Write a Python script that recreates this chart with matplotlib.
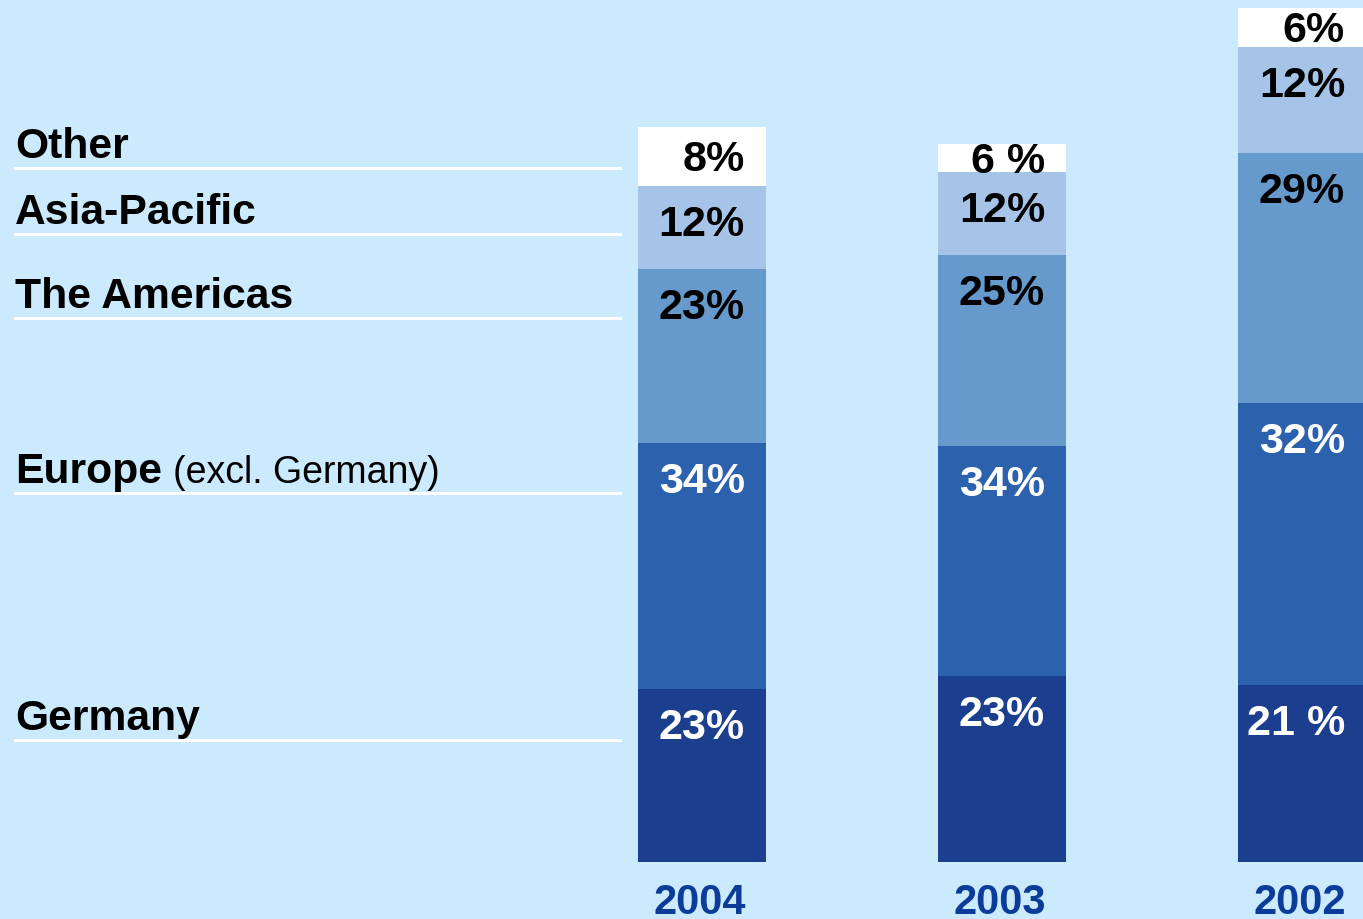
import matplotlib

matplotlib.use("Agg")
import matplotlib.pyplot as plt
from matplotlib.lines import Line2D

plt.rcParams["font.family"] = ["Liberation Sans", "DejaVu Sans"]

# data: segment heights (relative size), bottom -> top
years = ["2004", "2003", "2002"]
regions = ["Germany", "Europe", "The Americas", "Asia-Pacific", "Other"]
germany = [23.5, 25.3, 24.1]
europe = [33.5, 31.3, 38.4]
americas = [23.7, 26.0, 34.0]
asia = [11.3, 11.3, 14.4]
other = [8.0, 3.8, 5.3]
germany_lbl = ["23%", "23%", "21 %"]
europe_lbl = ["34%", "34%", "32%"]
americas_lbl = ["23%", "25%", "29%"]
asia_lbl = ["12%", "12%", "12%"]
other_lbl = ["8%", "6 %", "6%"]

BG = "#cceafd"
COLORS = ["#1c3e8e", "#2c62ad", "#6699cc", "#a6c4e8", "#ffffff"]
TEXT_COLORS = ["white", "white", "black", "black", "black"]

W, H = 1363, 919
PX_X = 300.0   # pixels per category step
PX_Y = 7.35    # pixels per height unit
X0 = 702       # pixel x of first bar centre
Y0 = 57        # pixel y (from bottom) of bar base

fig = plt.figure(figsize=(W / 100, H / 100), dpi=100, facecolor=BG)
ax = fig.add_axes([0, Y0 / H, 1, 1 - Y0 / H])
ax.set_facecolor(BG)
ax.set_xlim(-X0 / PX_X, (W - X0) / PX_X)
ax.set_ylim(0, (H - Y0) / PX_Y)
ax.axis("off")

xs = list(range(len(years)))
series = [germany, europe, americas, asia, other]
labels = [germany_lbl, europe_lbl, americas_lbl, asia_lbl, other_lbl]
bottoms = [0.0] * len(years)
for vals, lbls, color, tcol in zip(series, labels, COLORS, TEXT_COLORS):
    ax.bar(xs, vals, width=128 / PX_X, bottom=bottoms, color=color, linewidth=0)
    for i, (v, lab) in enumerate(zip(vals, lbls)):
        top = bottoms[i] + v
        drop = min(35, v * PX_Y / 2) + 15
        ax.annotate(lab, xy=(xs[i], top), xytext=(43, -drop), textcoords="offset pixels",
                    ha="right", va="baseline", fontsize=31, fontweight="bold", color=tcol)
    bottoms = [b + v for b, v in zip(bottoms, vals)]

for i, yr in enumerate(years):
    ax.annotate(yr, xy=(xs[i], 0), xytext=(-2, -52), textcoords="offset pixels",
                ha="center", va="baseline", fontsize=30, fontweight="bold", color="#0b3c9a")

# region legend on the left: (label, underline y in px from top)
legend_rows = [("Other", 168), ("Asia-Pacific", 234), ("The Americas", 318),
               ("Europe", 493), ("Germany", 740)]
for name, ly in legend_rows:
    yf = 1 - ly / H
    fig.add_artist(Line2D([15 / W, 620 / W], [yf, yf], transform=fig.transFigure,
                          color="white", linewidth=2.2))
    fig.text(15 / W, 1 - (ly - 10) / H, name, fontsize=30.7, fontweight="bold",
             va="baseline", ha="left")
    if name == "Europe":
        fig.text(173 / W, 1 - (ly - 10) / H, "(excl. Germany)", fontsize=27,
                 va="baseline", ha="left")

fig.savefig("out.png", dpi=100, facecolor=BG)
